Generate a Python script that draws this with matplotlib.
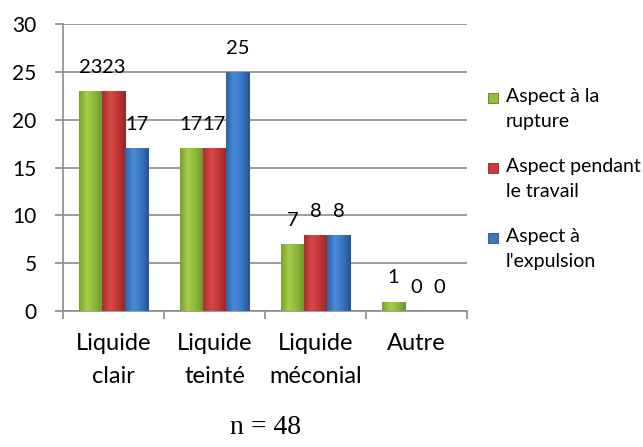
import numpy as np
import matplotlib
matplotlib.use("Agg")
import matplotlib.pyplot as plt
from matplotlib.patches import Rectangle
from matplotlib.colors import LinearSegmentedColormap

# data
categories = ["Liquide\nclair", "Liquide\nteinté", "Liquide\nméconial", "Autre"]
series_names = ["Aspect à la\nrupture", "Aspect pendant\nle travail", "Aspect à\nl'expulsion"]
rupture = [23, 17, 7, 1]
travail = [23, 17, 8, 0]
expulsion = [17, 25, 8, 0]
yticks = [0, 5, 10, 15, 20, 25, 30]

colors = ["#93BE3C", "#C93B3B", "#3B78C4"]
edges = ["#5E7E22", "#8A2424", "#24508A"]
shades = [["#7A9F2E", "#A6CE48", "#8DB63B", "#6E9228"],
          ["#A82E2E", "#D94848", "#C23636", "#962626"],
          ["#2E62A8", "#4A8CDA", "#3775C2", "#26548F"]]
grid_col = "#8C8C8C"

plt.rcParams["font.family"] = ["Lato", "DejaVu Sans"]

fig = plt.figure(figsize=(6.43, 4.47), dpi=100)
ax = fig.add_axes([0.098, 0.304, 0.628, 0.642])

x = np.arange(len(categories))
w = 0.228
grad = np.linspace(0, 1, 64).reshape(1, -1)
for i, vals in enumerate([rupture, travail, expulsion]):
    pos = x + (i - 1) * w
    cmap = LinearSegmentedColormap.from_list("s%d" % i, shades[i])
    bars = ax.bar(pos, vals, width=w, color=colors[i], edgecolor=edges[i],
                  linewidth=0.6, zorder=3)
    for b in bars:
        if b.get_height() <= 0:
            continue
        bx, by = b.get_x(), b.get_y()
        im = ax.imshow(grad, cmap=cmap, aspect="auto", zorder=3.5,
                       extent=(bx, bx + b.get_width(), by, by + b.get_height()))
        im.set_clip_path(b)
    for px, v in zip(pos, vals):
        ax.annotate(str(v), (px, v), xytext=(0, 13), textcoords="offset points",
                    ha="center", va="baseline", fontsize=14.5, color="black")

ax.set_xlim(-0.5, len(categories) - 0.5)
ax.set_ylim(0, 30)
ax.set_yticks(yticks)
ax.yaxis.grid(True, color=grid_col, linewidth=1.2, zorder=0)
ax.set_axisbelow(True)
ax.set_xticks(x)
ax.set_xticklabels(categories, fontsize=17, linespacing=1.7)
ax.set_xticks(np.arange(-0.5, len(categories)), minor=True)
ax.tick_params(axis="x", which="major", length=0, pad=16)
ax.tick_params(axis="x", which="minor", length=6, width=1.2, color=grid_col)
ax.tick_params(axis="y", length=6, width=1.2, color=grid_col, labelsize=15, pad=13)
for s in ["top", "right"]:
    ax.spines[s].set_visible(False)
for s in ["left", "bottom"]:
    ax.spines[s].set_color(grid_col)
    ax.spines[s].set_linewidth(1.2)

# legend, handle aligned with first line of each label
leg_y = [98, 168, 238]
for name, c, e, yp in zip(series_names, colors, edges, leg_y):
    fy = 1 - yp / 447
    fig.patches.append(Rectangle((488 / 643, fy - 5 / 447), 10 / 643, 10 / 447,
                                 transform=fig.transFigure, facecolor=c,
                                 edgecolor=e, linewidth=0.6))
    fig.text(506 / 643, fy + 10 / 447, name, fontsize=14, va="top", ha="left",
             linespacing=1.6)

fig.text(265 / 643, 1 - 427 / 447, "n = 48", fontsize=20, ha="center", va="center",
         family=["Liberation Serif", "DejaVu Serif"])

fig.savefig("out.png", dpi=100)
